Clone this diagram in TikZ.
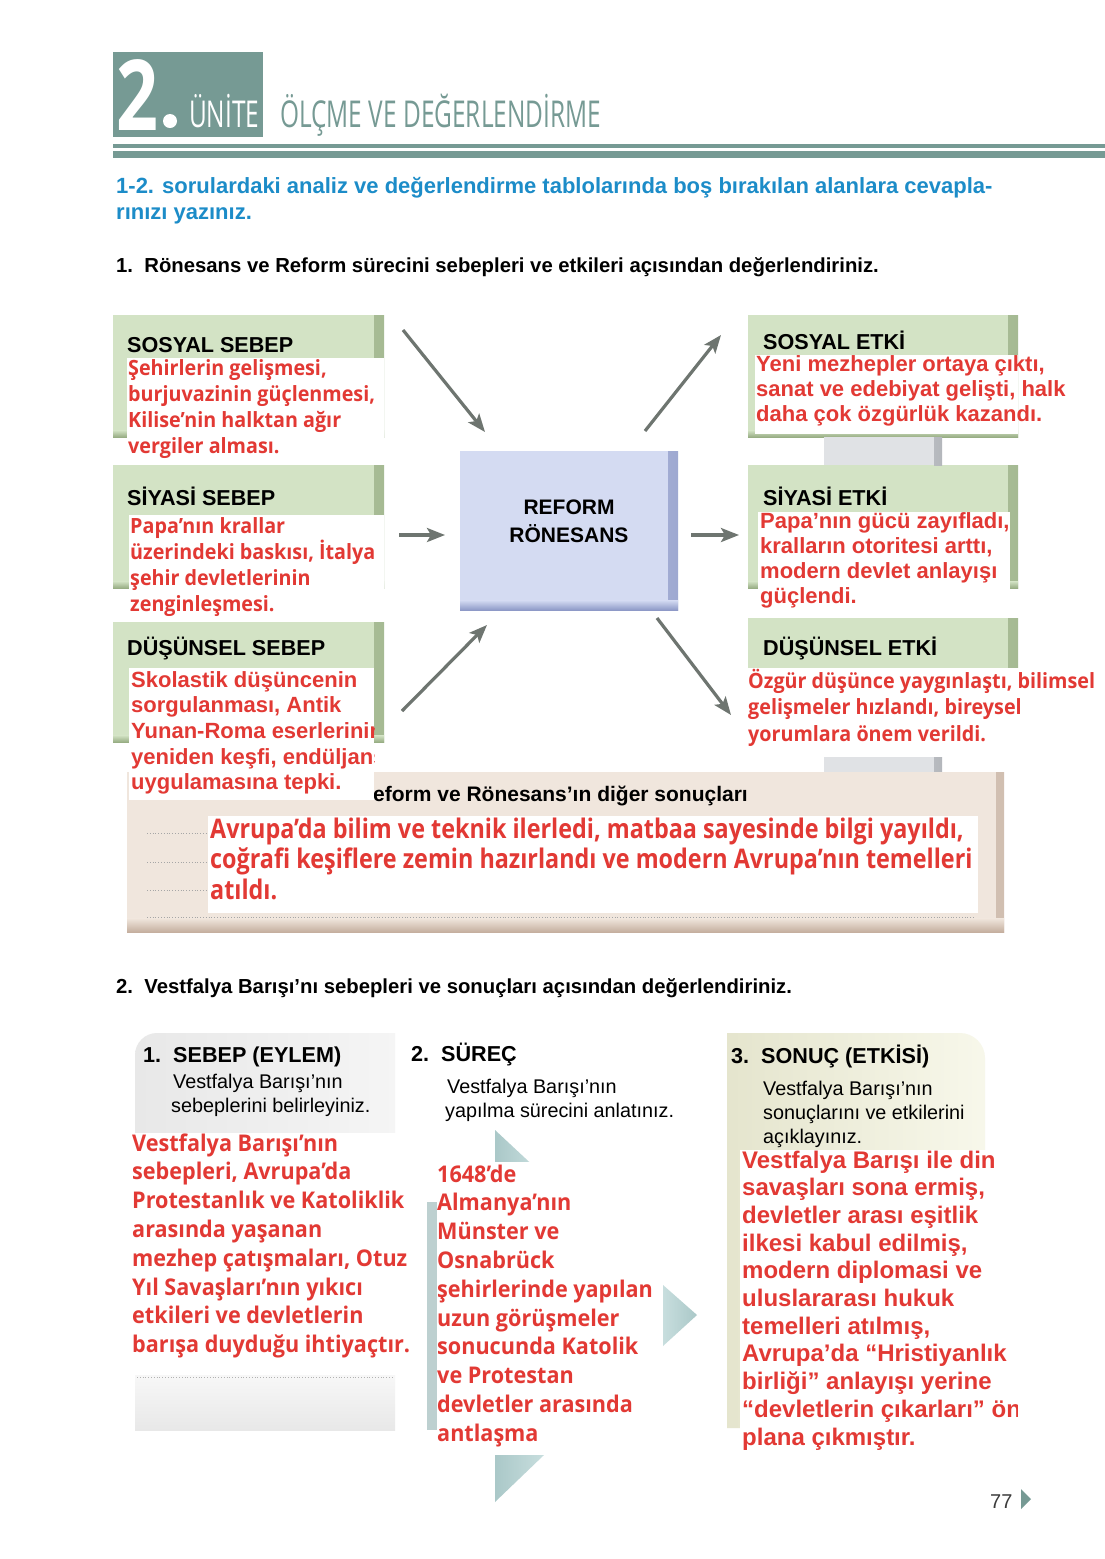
\documentclass[tikz,border=0pt]{standalone}
\usepackage{fontspec}
\setmainfont{Liberation Sans}
\newfontfamily\myr[FakeStretch=0.94]{Open Sans}
\newfontfamily\myrc[FakeStretch=0.865]{Open Sans}
\newfontfamily\cond[FakeStretch=0.66]{Open Sans}
\newfontfamily\condb[FakeStretch=0.75]{Open Sans}
\usetikzlibrary{arrows.meta}
\definecolor{hdrteal}{RGB}{118,154,148}
\definecolor{instblue}{RGB}{28,140,200}
\definecolor{ansred}{RGB}{226,57,52}
\definecolor{grn}{RGB}{211,227,197}
\definecolor{grndark}{RGB}{150,172,130}
\definecolor{arrgray}{RGB}{110,117,112}
\definecolor{cbox}{RGB}{212,219,242}
\definecolor{cboxdark}{RGB}{140,152,198}
\definecolor{beige}{RGB}{240,230,221}
\definecolor{beigedark}{RGB}{196,174,158}
\definecolor{stripc}{RGB}{224,226,229}
\definecolor{stripd}{RGB}{180,183,188}
\definecolor{tric}{RGB}{200,222,222}
\definecolor{trid}{RGB}{170,200,200}
\definecolor{grayc}{RGB}{232,232,232}
\definecolor{yelc}{RGB}{240,240,214}
\definecolor{pagegray}{RGB}{60,60,60}
\newcommand\ml[1]{\vtop{\halign{##\hfil\cr#1\crcr}}}
\tikzset{
  txt/.style={inner sep=0pt, anchor=base west},
  panel/.style={rectangle, inner sep=0pt, anchor=north west, fill=grn,
    path picture={
      \shade[left color=grn, right color=grndark!75!grn]
        ([xshift=-10pt]path picture bounding box.north east) rectangle (path picture bounding box.south east);
      \shade[top color=grn, bottom color=grndark]
        ([yshift=7pt]path picture bounding box.south west) rectangle (path picture bounding box.south east);
    }},
  cpanel/.style={rectangle, inner sep=0pt, anchor=north west, fill=cbox,
    path picture={
      \shade[left color=cbox, right color=cboxdark!75!cbox]
        ([xshift=-10pt]path picture bounding box.north east) rectangle (path picture bounding box.south east);
      \shade[top color=cbox, bottom color=cboxdark]
        ([yshift=10pt]path picture bounding box.south west) rectangle (path picture bounding box.south east);
    }},
  bpanel/.style={rectangle, inner sep=0pt, anchor=north west, fill=beige,
    path picture={
      \shade[left color=beige, right color=beigedark!70!beige]
        ([xshift=-8pt]path picture bounding box.north east) rectangle (path picture bounding box.south east);
      \shade[top color=beige, bottom color=beigedark]
        ([yshift=14pt]path picture bounding box.south west) rectangle (path picture bounding box.south east);
    }},
  spanel/.style={rectangle, inner sep=0pt, anchor=north west, fill=stripc,
    path picture={
      \shade[left color=stripc, right color=stripd]
        ([xshift=-8pt]path picture bounding box.north east) rectangle (path picture bounding box.south east);
    }},
  arr/.style={draw=arrgray, line width=3.2pt, -{Stealth[length=18pt,width=14pt,inset=4pt]}},
  redtxt/.style={txt, text=ansred},
  hdr/.style={txt, font=\bfseries\fontsize{21.6}{24}\selectfont},
}
\begin{document}
\begin{tikzpicture}[x=1pt,y=-1pt]
\useasboundingbox (0,0) rectangle (1105,1559);
\fill[white] (0,0) rectangle (1105,1559);

% ---------- header ----------
\node[rectangle, fill=hdrteal, inner sep=0pt, anchor=north west, minimum width=150pt, minimum height=85pt] (unitbox) at (113,52) {};
\node[txt, text=white] (unitnum) at (116,130) {\condb\bfseries\fontsize{98}{98}\selectfont 2};
\fill[white] (170,121) circle (7);
\node[txt, text=white] (unitword) at (189,127) {\cond\fontsize{37}{37}\selectfont ÜNİTE};
\node[txt, text=hdrteal] (unittitle) at (280,127) {\cond\fontsize{37}{37}\selectfont ÖLÇME VE DEĞERLENDİRME};
\fill[hdrteal] (113,144) rectangle (1105,147.5);
\fill[hdrteal] (113,151) rectangle (1105,158);

% ---------- instructions ----------
\node[txt, text=instblue] (inst) at (116,193) {\bfseries\fontsize{22}{26}\selectfont\ml{1-2. sorulardaki analiz ve değerlendirme tablolarında boş bırakılan alanlara cevapla-\cr rınızı yazınız.}};
\node[txt] (q1) at (116,272) {\bfseries\fontsize{20.3}{22}\selectfont 1.\ \ Rönesans ve Reform sürecini sebepleri ve etkileri açısından değerlendiriniz.};

% ---------- left panels ----------
\node[panel, minimum width=271pt, minimum height=122pt] (ss) at (113,315) {};
\node[panel, minimum width=271pt, minimum height=123pt] (ps) at (113,465) {};
\node[panel, minimum width=271pt, minimum height=120pt] (ds) at (113,622) {};
\node[hdr] (ssh) at (127,352) {SOSYAL SEBEP};
\node[hdr] (psh) at (127,505) {SİYASİ SEBEP};
\node[hdr] (dsh) at (127,655) {DÜŞÜNSEL SEBEP};

% ---------- right panels ----------
\node[panel, minimum width=270pt, minimum height=122pt] (se) at (748,315) {};
\node[panel, minimum width=270pt, minimum height=123pt] (pe) at (748,465) {};
\node[panel, minimum width=270pt, minimum height=60pt] (de) at (748,618) {};
\node[spanel, minimum width=118pt, minimum height=28pt] (st1) at (824,437) {};
\node[spanel, minimum width=118pt, minimum height=16pt] (st2) at (824,757) {};
\node[hdr] (seh) at (763,349) {SOSYAL ETKİ};
\node[hdr] (peh) at (763,505) {SİYASİ ETKİ};
\node[hdr] (deh) at (763,655) {DÜŞÜNSEL ETKİ};

% ---------- centre ----------
\node[cpanel, minimum width=218pt, minimum height=159pt] (center) at (460,451) {};
\node[txt, anchor=base] (ctext) at (569,514) {\bfseries\fontsize{21}{28}\selectfont REFORM};
\node[txt, anchor=base] (ctext2) at (569,542) {\bfseries\fontsize{21}{28}\selectfont RÖNESANS};

% ---------- arrows ----------
\coordinate (a1s) at (403,330); \coordinate (a1e) at (485,432);
\coordinate (a2s) at (399,535); \coordinate (a2e) at (445,535);
\coordinate (a3s) at (402,711); \coordinate (a3e) at (487,625);
\coordinate (b1s) at (645,431); \coordinate (b1e) at (721,335);
\coordinate (b2s) at (691,535); \coordinate (b2e) at (739,535);
\coordinate (b3s) at (657,618); \coordinate (b3e) at (731,715);
\draw[arr] (a1s) -- (a1e);
\draw[arr] (a2s) -- (a2e);
\draw[arr] (a3s) -- (a3e);
\draw[arr] (b1s) -- (b1e);
\draw[arr] (b2s) -- (b2e);
\draw[arr] (b3s) -- (b3e);

% ---------- bottom results box ----------
\node[bpanel, minimum width=877pt, minimum height=160pt] (res) at (127,772) {};
\node[txt] (resh) at (373,801) {\bfseries\fontsize{21}{24}\selectfont eform ve Rönesans’ın diğer sonuçları};
\draw[gray!70, dotted, line width=0.8pt] (147,833) -- (208,833);
\draw[gray!70, dotted, line width=0.8pt] (147,862) -- (208,862);
\draw[gray!70, dotted, line width=0.8pt] (147,890) -- (208,890);
\draw[gray!70, dotted, line width=0.8pt] (147,917) -- (975,917);
\fill[white] (208,816) rectangle (978,913);
\node[redtxt] (resa) at (210,838) {\myrc\bfseries\fontsize{27}{30.5}\selectfont\ml{Avrupa’da bilim ve teknik ilerledi, matbaa sayesinde bilgi yayıldı,\cr coğrafi keşiflere zemin hazırlandı ve modern Avrupa’nın temelleri\cr atıldı.}};

% ---------- answers top ----------
\fill[white] (127,358) rectangle (384,460);
\node[redtxt] (ssa) at (128,375) {\myr\bfseries\fontsize{21}{26}\selectfont\ml{Şehirlerin gelişmesi,\cr burjuvazinin güçlenmesi,\cr Kilise’nin halktan ağır\cr vergiler alması.}};
\fill[white] (129,515) rectangle (384,622);
\node[redtxt] (psa) at (130,533) {\myr\bfseries\fontsize{21}{26}\selectfont\ml{Papa’nın krallar\cr üzerindeki baskısı, İtalya\cr şehir devletlerinin\cr zenginleşmesi.}};
\begin{scope}
\clip (129,668) rectangle (374,800);
\fill[white] (129,668) rectangle (374,800);
\node[redtxt] (dsa) at (131,687) {\bfseries\fontsize{22}{25.7}\selectfont\ml{Skolastik düşüncenin\cr sorgulanması, Antik\cr Yunan-Roma eserlerinin\cr yeniden keşfi, endüljans\cr uygulamasına tepki.}};
\end{scope}
\fill[white] (755,355) rectangle (1018,434);
\node[redtxt] (sea) at (756,371) {\bfseries\fontsize{22}{25}\selectfont\ml{Yeni mezhepler ortaya çıktı,\cr sanat ve edebiyat gelişti, halk\cr daha çok özgürlük kazandı.}};
\fill[white] (758,512) rectangle (1010,612);
\node[redtxt] (pea) at (760,528) {\bfseries\fontsize{22}{25.3}\selectfont\ml{Papa’nın gücü zayıfladı,\cr kralların otoritesi arttı,\cr modern devlet anlayışı\cr güçlendi.}};
\fill[white] (745,668) rectangle (1095,748);
\node[redtxt] (dea) at (748,688) {\myr\bfseries\fontsize{21}{26.5}\selectfont\ml{Özgür düşünce yaygınlaştı, bilimsel\cr gelişmeler hızlandı, bireysel\cr yorumlara önem verildi.}};

% ---------- section 2 ----------
\node[txt] (q2) at (116,993) {\bfseries\fontsize{20.3}{22}\selectfont 2.\ \ Vestfalya Barışı’nı sebepleri ve sonuçları açısından değerlendiriniz.};

% column 1
\shade[left color=grayc, right color=gray!8] (135,1133) [rounded corners=22pt] -- (135,1033) [sharp corners] -- (395,1033) -- (395,1133) -- cycle;
\shade[top color=gray!6, bottom color=grayc] (135,1375) rectangle (395,1430);
\draw[gray!60, dotted, line width=0.8pt] (137,1377) -- (393,1377);
\node[txt] (c1h) at (143,1062) {\bfseries\fontsize{21.6}{24}\selectfont 1.\ \ SEBEP (EYLEM)};
\node[txt] (c1s) at (173,1088) {\fontsize{19.8}{24}\selectfont\ml{Vestfalya Barışı’nın\cr \kern-2pt sebeplerini belirleyiniz.}};
\fill[white] (128,1133) rectangle (410,1365);
\node[redtxt] (c1a) at (132,1151) {\myr\bfseries\fontsize{23}{28.8}\selectfont\ml{Vestfalya Barışı’nın\cr sebepleri, Avrupa’da\cr Protestanlık ve Katoliklik\cr arasında yaşanan\cr mezhep çatışmaları, Otuz\cr Yıl Savaşları’nın yıkıcı\cr etkileri ve devletlerin\cr barışa duyduğu ihtiyaçtır.}};

% column 2
\node[txt] (c2h) at (411,1061) {\bfseries\fontsize{21.6}{24}\selectfont 2.\ \ SÜREÇ};
\node[txt] (c2s) at (447,1093) {\fontsize{19.8}{24}\selectfont\ml{Vestfalya Barışı’nın\cr \kern-2pt yapılma sürecini anlatınız.}};
\shade[left color=trid, right color=tric] (495,1130) -- (540,1172) -- (495,1172) -- cycle;
\shade[left color=trid, right color=tric] (495,1455) -- (544,1455) -- (495,1502) -- cycle;
\fill[tric!85!gray] (427,1202) rectangle (437,1430);
\shade[left color=tric, right color=trid] (663,1285) -- (697,1315) -- (663,1346) -- cycle;
\fill[white] (437,1162) rectangle (652,1452);
\node[redtxt] (c2a) at (437,1182) {\myr\bfseries\fontsize{23}{28.8}\selectfont\ml{1648’de\cr Almanya’nın\cr Münster ve\cr Osnabrück\cr şehirlerinde yapılan\cr uzun görüşmeler\cr sonucunda Katolik\cr ve Protestan\cr devletler arasında\cr antlaşma}};

% column 3
\shade[left color=yelc!90!gray, right color=yelc!50] (727,1428) -- (727,1033) [rounded corners=25pt] -- (985,1033) [sharp corners] -- (985,1428) -- cycle;
\node[txt] (c3h) at (731,1063) {\bfseries\fontsize{21.6}{24}\selectfont 3.\ \ SONUÇ (ETKİSİ)};
\node[txt] (c3s) at (763,1095) {\fontsize{19.8}{24}\selectfont\ml{Vestfalya Barışı’nın\cr sonuçlarını ve etkilerini\cr açıklayınız.}};
\begin{scope}
\clip (740,1150) rectangle (1017,1456);
\fill[white] (740,1150) rectangle (1017,1456);
\node[redtxt] (c3a) at (742,1168) {\bfseries\fontsize{24}{27.7}\selectfont\ml{Vestfalya Barışı ile din\cr savaşları sona ermiş,\cr devletler arası eşitlik\cr ilkesi kabul edilmiş,\cr modern diplomasi ve\cr uluslararası hukuk\cr temelleri atılmış,\cr Avrupa’da “Hristiyanlık\cr birliği” anlayışı yerine\cr “devletlerin çıkarları” ön\cr plana çıkmıştır.}};
\end{scope}

% page number
\node[txt, text=pagegray] (pnum) at (990,1508) {\fontsize{20}{24}\selectfont 77};
\fill[hdrteal] (1021,1489) -- (1031,1499) -- (1021,1509) -- cycle;
\end{tikzpicture}
\end{document}
